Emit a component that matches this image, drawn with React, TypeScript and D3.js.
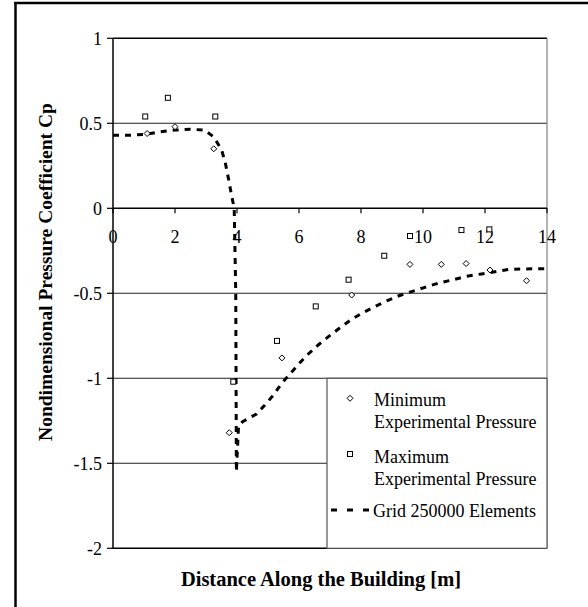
import React from "react";
import * as d3 from "d3";

const minX = [1.1, 2.0, 3.25, 3.75, 5.45, 7.7, 9.58, 10.59, 11.39, 12.16, 13.34];
const minY = [0.44, 0.48, 0.35, -1.32, -0.88, -0.51, -0.33, -0.33, -0.325, -0.363, -0.426];

const maxX = [1.04, 1.77, 3.3, 3.88, 5.29, 6.54, 7.6, 8.75, 9.58, 11.24, 12.14];
const maxY = [0.54, 0.65, 0.54, -1.02, -0.78, -0.577, -0.42, -0.279, -0.163, -0.128, -0.124];

const gridX = [0, 0.6, 1.05, 1.5, 2.0, 2.5, 2.95, 3.25, 3.5, 3.62, 3.73, 3.82, 3.91, 3.96, 3.98, 4.05, 4.18, 4.63, 4.9, 5.17, 5.44, 5.71, 6.01, 6.3, 6.62, 6.95, 7.3, 7.67, 8.02, 8.4, 8.85, 9.2, 9.63, 10.06, 10.5, 10.98, 11.4, 11.89, 12.32, 12.8, 13.3, 13.77, 14];
const gridY = [0.43, 0.43, 0.435, 0.45, 0.46, 0.465, 0.46, 0.42, 0.345, 0.27, 0.17, 0.08, 0.0, -0.5, -1.55, -1.28, -1.255, -1.21, -1.157, -1.1, -1.03, -0.975, -0.912, -0.857, -0.804, -0.755, -0.706, -0.657, -0.618, -0.582, -0.543, -0.516, -0.49, -0.465, -0.44, -0.42, -0.4, -0.386, -0.373, -0.359, -0.357, -0.355, -0.355];

const xTicks = [0, 2, 4, 6, 8, 10, 12, 14];
const yTicks = [1, 0.5, 0, -0.5, -1, -1.5, -2];
const gridLinesY = [0.5, -0.5, -1, -1.5];

const legendLabels = [
  ["Minimum", "Experimental Pressure"],
  ["Maximum", "Experimental Pressure"],
  ["Grid 250000 Elements"],
];

const FONT = "'Liberation Serif', 'Times New Roman', serif";

export default function App() {
  const W = 588, H = 607;
  const x = d3.scaleLinear().domain([0, 14]).range([113, 547]);
  const y = d3.scaleLinear().domain([-2, 1]).range([548.3, 38.3]);

  const line = d3
    .line<number>()
    .x((_, i) => x(gridX[i]))
    .y((d) => y(d));
  const gridPath = line(gridY) || "";

  const diamond = (cx: number, cy: number, r: number) =>
    `M${cx},${cy - r}L${cx + r},${cy}L${cx},${cy + r}L${cx - r},${cy}Z`;

  const lx = 327, ly = 378.3, lw = 220, lh = 170;

  return (
    <svg width={W} height={H} style={{ position: "absolute", left: 0, top: 0, background: "#fff", display: "block" }} fontFamily={FONT}>
      <rect x={0} y={0} width={W} height={H} fill="#fff" />
      {/* outer frame (only left and top edges fall inside the picture) */}
      <line x1={15.5} x2={15.5} y1={2} y2={H} stroke="#000" strokeWidth={2.5} />
      <line x1={14.3} x2={W} y1={3} y2={3} stroke="#000" strokeWidth={2.5} />

      {/* gridlines */}
      {gridLinesY.map((v) => (
        <line key={v} x1={x(0)} x2={x(14)} y1={y(v)} y2={y(v)} stroke="#222" strokeWidth={1.1} />
      ))}
      {/* plot border */}
      <line x1={x(0)} x2={x(14)} y1={y(1)} y2={y(1)} stroke="#000" strokeWidth={1.5} />
      <line x1={x(0)} x2={x(14)} y1={y(-2)} y2={y(-2)} stroke="#000" strokeWidth={1.5} />
      <line x1={x(14)} x2={x(14)} y1={y(1)} y2={y(-2)} stroke="#808080" strokeWidth={1.2} />
      {/* y axis */}
      <line x1={x(0)} x2={x(0)} y1={y(1)} y2={y(-2)} stroke="#000" strokeWidth={1.5} />
      {yTicks.map((v) => (
        <g key={v}>
          <line x1={x(0) - 6} x2={x(0)} y1={y(v)} y2={y(v)} stroke="#000" strokeWidth={1.2} />
          <text x={102} y={y(v)} dy="0.35em" textAnchor="end" fontSize={18} fill="#000">
            {v}
          </text>
        </g>
      ))}
      {/* x axis at 0 */}
      <line x1={x(0)} x2={x(14)} y1={y(0)} y2={y(0)} stroke="#000" strokeWidth={1.5} />
      {xTicks.map((v) => (
        <g key={v}>
          <line x1={x(v)} x2={x(v)} y1={y(0)} y2={y(0) + 5} stroke="#000" strokeWidth={1.2} />
          <text x={x(v)} y={243} textAnchor="middle" fontSize={18} fill="#000">
            {v}
          </text>
        </g>
      ))}

      {/* grid simulation line */}
      <path d={gridPath} fill="none" stroke="#000" strokeWidth={3} strokeDasharray="6,6" />

      {/* markers */}
      {minX.map((v, i) => (
        <path key={"mn" + i} d={diamond(x(v), y(minY[i]), 3)} fill="#fff" stroke="#000" strokeWidth={1} />
      ))}
      {maxX.map((v, i) => (
        <rect key={"mx" + i} x={x(v) - 2.5} y={y(maxY[i]) - 2.5} width={5} height={5} fill="#fff" stroke="#000" strokeWidth={1} />
      ))}

      {/* legend */}
      <rect x={lx} y={ly} width={lw} height={lh} fill="#fff" stroke="#555" strokeWidth={1.2} />
      <path d={diamond(350, 398.3, 3)} fill="#fff" stroke="#000" strokeWidth={1} />
      <rect x={347.5} y={451.5} width={5} height={5} fill="#fff" stroke="#000" strokeWidth={1} />
      <line x1={331} x2={369} y1={510} y2={510} stroke="#000" strokeWidth={3} strokeDasharray="6,10" />
      <text fontSize={18} fill="#000">
        <tspan x={374} y={400} dy="0.35em">{legendLabels[0][0]}</tspan>
        <tspan x={374} y={421.7} dy="0.35em">{legendLabels[0][1]}</tspan>
        <tspan x={374} y={456.7} dy="0.35em">{legendLabels[1][0]}</tspan>
        <tspan x={374} y={478.3} dy="0.35em">{legendLabels[1][1]}</tspan>
        <tspan x={373} y={511} dy="0.35em">{legendLabels[2][0]}</tspan>
      </text>

      {/* axis titles */}
      <text
        transform={`translate(45,272) rotate(-90)`}
        textAnchor="middle"
        dy="0.35em"
        fontSize={19.5}
        fontWeight="bold"
        fill="#000"
      >
        Nondimensional Pressure Coefficient Cp
      </text>
      <text x={321} y={586} textAnchor="middle" fontSize={20.5} fontWeight="bold" fill="#000">
        Distance Along the Building [m]
      </text>
    </svg>
  );
}
